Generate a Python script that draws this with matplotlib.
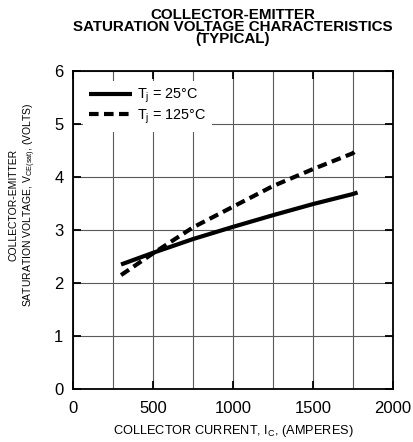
import matplotlib
matplotlib.use('Agg')
import matplotlib.pyplot as plt
from matplotlib.ticker import MultipleLocator

plt.rcParams['font.family'] = ['Liberation Sans', 'DejaVu Sans']

# Curves
current_a = [300, 500, 750, 1000, 1250, 1500, 1750, 1780]
vce_25c = [2.35, 2.57, 2.83, 3.06, 3.28, 3.49, 3.68, 3.71]
vce_125c = [2.15, 2.56, 3.05, 3.44, 3.83, 4.15, 4.45, 4.53]

x_ticks = [0, 500, 1000, 1500, 2000]
y_ticks = [0, 1, 2, 3, 4, 5, 6]

fig = plt.figure(figsize=(4.13, 4.42), dpi=100)
ax = fig.add_axes([0.177, 0.12, 0.774, 0.719])

ax.plot(current_a, vce_25c, color='black', lw=3.0, solid_capstyle='butt',
        label='T$_\\mathregular{j}$ = 25°C')
ax.plot(current_a, vce_125c, color='black', lw=3.0, ls=(0, (2.3, 1.3)),
        label='T$_\\mathregular{j}$ = 125°C')

ax.set_xlim(0, 2000)
ax.set_ylim(0, 6)
ax.set_xticks(x_ticks)
ax.set_yticks(y_ticks)
ax.xaxis.set_minor_locator(MultipleLocator(250))
ax.grid(True, which='both', color='0.35', lw=0.8)
ax.set_axisbelow(True)

ax.tick_params(which='major', direction='in', length=6, width=1.3,
               top=True, right=True, labelsize=12)
ax.tick_params(axis='x', pad=9)
ax.tick_params(axis='y', pad=7)
ax.tick_params(which='minor', length=0)
for s in ax.spines.values():
    s.set_linewidth(1.3)

ax.set_xlabel('COLLECTOR CURRENT, I$_\\mathregular{C}$, (AMPERES)', fontsize=9.2)
ax.xaxis.set_label_coords(0.5, -0.108)
ax.set_ylabel('COLLECTOR-EMITTER\nSATURATION VOLTAGE, V$_\\mathregular{CE(sat)}$, (VOLTS)',
              fontsize=7.5, linespacing=1.25)
ax.yaxis.set_label_coords(-0.11, 0.58)
ax.set_title('COLLECTOR-EMITTER\nSATURATION VOLTAGE CHARACTERISTICS\n(TYPICAL)',
             fontsize=10.9, fontweight='bold', pad=20, linespacing=0.85)

leg = ax.legend(loc='upper left', frameon=True, fontsize=10.4, handlelength=3.0,
                borderaxespad=0.7, borderpad=0.4, labelspacing=0.15,
                handletextpad=0.3, fancybox=False)
leg.get_frame().set_edgecolor('none')
leg.get_frame().set_facecolor('white')
leg.get_frame().set_alpha(1)

fig.savefig('out.png', dpi=100)
